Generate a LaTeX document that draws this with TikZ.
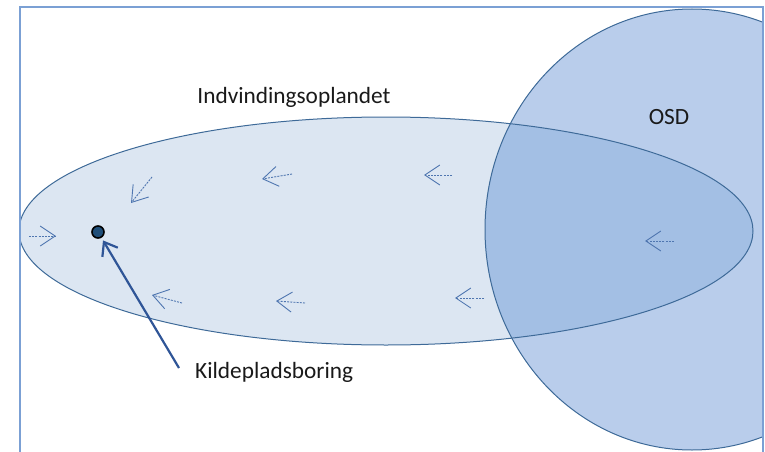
\documentclass[tikz,border=0pt]{standalone}
\usepackage{fontspec}
\setmainfont{Carlito}
\usetikzlibrary{arrows.meta}
\definecolor{zoneFill}{HTML}{DCE6F2}
\definecolor{osdFill}{HTML}{B9CDEB}
\definecolor{bothFill}{HTML}{A3BFE4}
\definecolor{rimBlue}{HTML}{3E6A98}
\definecolor{frameBlue}{HTML}{7BA0D4}
\definecolor{flowBlue}{HTML}{4F76B0}
\definecolor{pointerBlue}{HTML}{2F5597}
\definecolor{wellFill}{HTML}{1F4E79}
\begin{document}
\begin{tikzpicture}
  [x=1pt,y=-1pt,
  zone/.style={fill=zoneFill},
  osd/.style={fill=osdFill},
  both/.style={fill=bothFill},
  rim/.style={draw=rimBlue, line width=1pt},
  frame/.style={draw=frameBlue, line width=1.3pt},
  flow/.style={flowBlue, line width=0.9pt, dash pattern=on 2pt off 1.2pt,
    -{Straight Barb[length=15pt,width=20pt]}},
  pointer/.style={pointerBlue, line width=2.2pt,
    -{Straight Barb[length=12pt,width=18pt]}, shorten >=3pt},
  well/.style={circle, fill=wellFill, draw=black, line width=1.6pt,
    inner sep=0pt, minimum size=12pt},
  lbl/.style={font=\fontsize{23.3}{27}\selectfont, text=black!90}]

  \useasboundingbox (0,0) rectangle (765,452);

  % catchment and OSD areas
  \begin{scope}
    \clip (20,7) rectangle (763,452);
    \fill[zone] (386,231) ellipse [x radius=367pt, y radius=114pt];
    \fill[osd] (692,229.5) ellipse [x radius=207pt, y radius=220.5pt];
    \begin{scope}
      \clip (386,231) ellipse [x radius=367pt, y radius=114pt];
      \fill[both] (692,229.5) ellipse [x radius=207pt, y radius=220.5pt];
    \end{scope}
    \draw[rim] (386,231) ellipse [x radius=367pt, y radius=114pt];
    \draw[rim] (692,229.5) ellipse [x radius=207pt, y radius=220.5pt];
  \end{scope}

  \draw[frame] (20,452) -- (20,7) -- (763,7) -- (763,452);

  % flow directions
  \draw[flow] (29,236) -- (56,236);
  \draw[flow] (152,177) -- (131,203);
  \draw[flow] (292,174) -- (262,179);
  \draw[flow] (452,175) -- (424,175);
  \draw[flow] (182,303) -- (152,295);
  \draw[flow] (305,303) -- (276,301);
  \draw[flow] (484,298) -- (455,298);
  \draw[flow] (674,241) -- (645,241);

  \node[lbl] (opland) at (294,97) {Indvindingsoplandet};
  \node[lbl] (osd) at (669,117) {OSD};
  \node[lbl, anchor=west, inner sep=2pt] (boring) at (193,372) {Kildepladsboring};
  \node[well] (well) at (98,232) {};

  \draw[pointer] ([xshift=-14pt,yshift=4pt]boring.west) -- (well);

\end{tikzpicture}
\end{document}
